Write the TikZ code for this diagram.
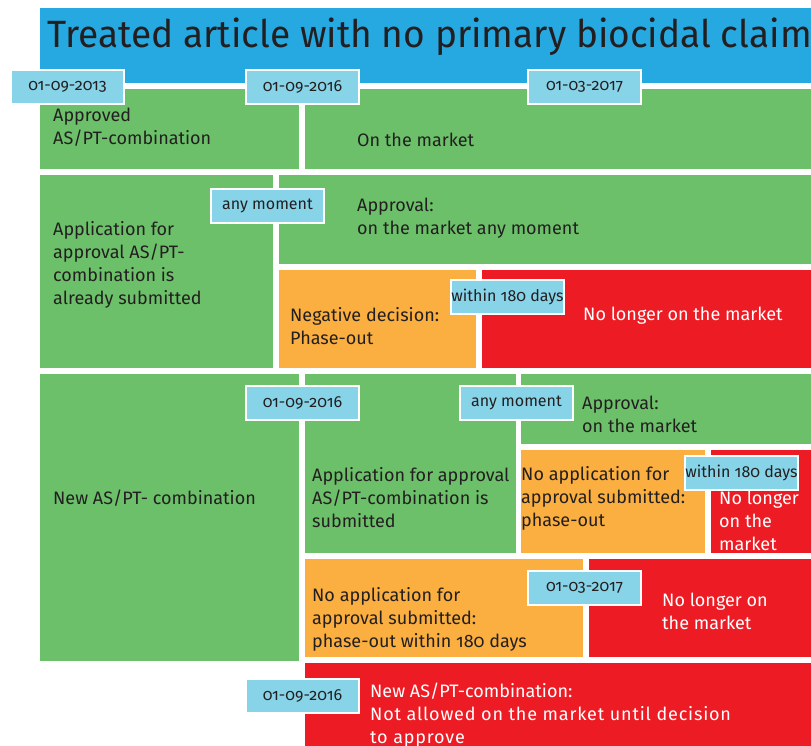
\documentclass[tikz,border=0pt]{standalone}
\usepackage{fontspec}
\setmainfont{Fira Sans}[Numbers=OldStyle]
\newfontfamily\titlefont{Fira Sans}[FakeStretch=0.975]
\definecolor{titleblue}{RGB}{38,168,224}
\definecolor{tagblue}{RGB}{135,211,232}
\definecolor{cgreen}{RGB}{108,192,106}
\definecolor{corange}{RGB}{250,175,64}
\definecolor{cred}{RGB}{237,28,36}
\definecolor{ink}{RGB}{35,31,32}
\tikzset{
  box/.style={inner sep=0pt, outer sep=0pt, anchor=north west},
  txt/.style={anchor=west, inner sep=0pt, align=left, text=ink, font=\fontsize{18}{23}\selectfont},
  wtxt/.style={txt, text=white},
  tag/.style={draw=white, line width=2pt, fill=tagblue, text=ink, inner sep=0pt,
    minimum width=113pt, minimum height=34pt, anchor=north west, font=\fontsize{16}{18}\selectfont}
}
\newcommand{\bx}[6]{\path[fill=#2] (#3,#4) rectangle (#5,#6) node[pos=0,box] (#1) {};}
\begin{document}
\begin{tikzpicture}[x=1pt,y=-1pt]
\useasboundingbox (0,0) rectangle (811,746);
\fill[white] (0,0) rectangle (811,746);
% title
\bx{title}{titleblue}{40}{8}{811}{83}
\node[anchor=base west, inner sep=0pt, text=ink, font=\titlefont\fontsize{38}{40}\selectfont] (titletxt) at (47,48) {Treated article with no primary biocidal claim};
% row 1
\bx{r1a}{cgreen}{40}{89}{299}{169}
\bx{r1b}{cgreen}{305}{89}{811}{169}
\node[txt] (t1a) at (53,127) {Approved\\AS/PT-combination};
\node[txt] (t1b) at (357,140) {On the market};
% row 2
\bx{r2a}{cgreen}{40}{175}{273}{368}
\bx{r2b}{cgreen}{279}{175}{811}{264}
\bx{r2c}{corange}{279}{270}{476}{368}
\bx{r2d}{cred}{482}{270}{811}{368}
\node[txt] (t2a) at (53,265) {Application for\\approval AS/PT-\\combination is\\already submitted};
\node[txt] (t2b) at (357,218) {Approval:\\on the market any moment};
\node[txt] (t2c) at (290,326) {Negative decision:\\Phase-out};
\node[wtxt] (t2d) at (583,316) {No longer on the market};
% row 3
\bx{r3a}{cgreen}{40}{374}{299}{661}
\bx{r3b}{cgreen}{305}{374}{516}{553}
\bx{r3c}{cgreen}{521}{374}{811}{444}
\bx{r3d}{corange}{521}{450}{705}{553}
\bx{r3e}{cred}{711}{450}{811}{553}
\node[txt] (t3a) at (53,498) {New AS/PT- combination};
\node[txt] (t3b) at (312,498) {Application for approval\\AS/PT-combination is\\submitted};
\node[txt] (t3c) at (582,414) {Approval:\\on the market};
\node[txt] (t3d) at (521,498) {No application for\\approval submitted:\\phase-out};
\node[wtxt] (t3e) at (719,521) {No longer\\on the\\market};
% row 4
\bx{r4a}{corange}{305}{559}{583}{657}
\bx{r4b}{cred}{589}{559}{811}{657}
\node[txt] (t4a) at (312,619) {No application for\\approval submitted:\\phase-out within 180 days};
\node[wtxt] (t4b) at (662,611) {No longer on\\the market};
% row 5
\bx{r5a}{cred}{305}{663}{811}{760}
\node[wtxt, anchor=north west] (t5a) at (370,683) {New AS/PT-combination:\\{\addfontfeature{LetterSpace=4.5}Not allowed on the market until decision}\\{\addfontfeature{LetterSpace=4.5}to approve}};
% tags
\node[tag] (d1) at (10,69) {01-09-2013};
\node[tag] (d2) at (245,69) {01-09-2016};
\node[tag] (d3) at (527,69) {01-03-2017};
\node[tag] (d4) at (210,188) {any moment};
\node[tag] (d5) at (450,279) {within 180 days};
\node[tag] (d6) at (245,385) {01-09-2016};
\node[tag] (d7) at (459,385) {any moment};
\node[tag] (d8) at (684,455) {within 180 days};
\node[tag] (d9) at (527,570) {01-03-2017};
\node[tag] (d10) at (245,678) {01-09-2016};
\end{tikzpicture}
\end{document}
